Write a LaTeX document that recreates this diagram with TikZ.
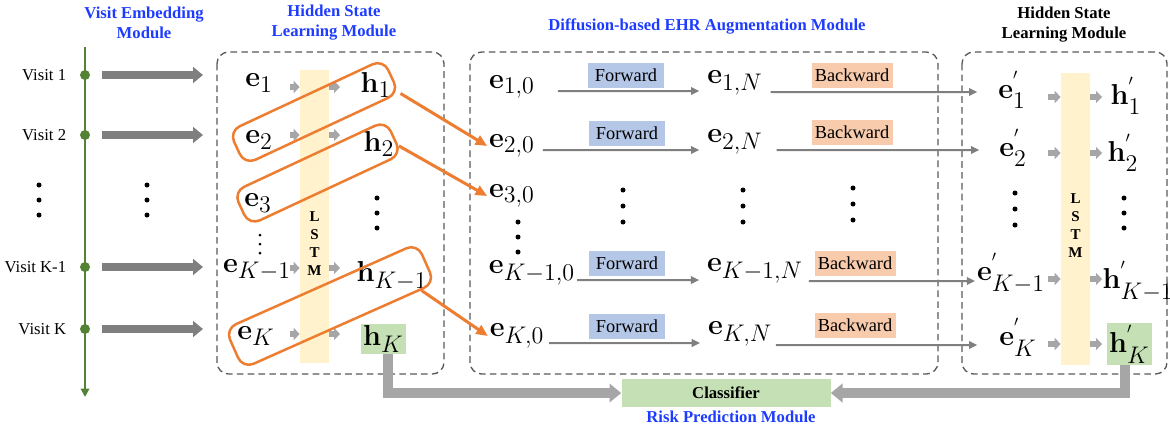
\documentclass[tikz,border=0pt]{standalone}
\usepackage{amsmath, amssymb}
\usepackage[no-math]{fontspec}
\setmainfont{Liberation Serif}
\usepackage{xcolor}
\usepackage{tikz}
\usetikzlibrary{calc, arrows.meta, positioning}

\definecolor{titleblue}{RGB}{30,60,255}
\definecolor{lineorange}{RGB}{237,125,49}
\definecolor{timegreen}{RGB}{84,130,53}
\definecolor{hgreen}{RGB}{197,224,180}
\definecolor{lstmyellow}{RGB}{255,242,204}
\definecolor{fwdblue}{RGB}{180,199,231}
\definecolor{bwdpeach}{RGB}{248,203,173}
\definecolor{arrowgray}{RGB}{127,127,127}
\definecolor{lightgray2}{RGB}{166,166,166}
\definecolor{boxgray}{RGB}{89,89,89}

\begin{document}
\begin{tikzpicture}[x=0.6pt, y=-0.6pt,
    modtitle/.style={font=\bfseries, text=titleblue, align=center, inner sep=0pt},
    vec/.style={font=\fontsize{19}{21}\selectfont, inner sep=1pt},
    modbox/.style={draw=boxgray, dash pattern=on 4pt off 2.5pt, line width=0.8pt, rounded corners=7pt},
    lstmbar/.style={fill=lstmyellow, inner sep=0pt, minimum width=17.4pt, minimum height=175.5pt},
    lstmtext/.style={font=\fontsize{9}{10.8}\selectfont\bfseries, align=center},
    lstmarrow/.style={draw=lightgray2, line width=3.2pt, -{Triangle[length=3.6pt, width=7.2pt]}},
    visitarrow/.style={draw=arrowgray, line width=5pt, -{Triangle[length=6pt, width=9.5pt]}},
    visitdot/.style={circle, fill=timegreen, inner sep=0pt, minimum size=6pt},
    flowline/.style={draw=arrowgray, line width=1.2pt, -{Triangle[length=5pt, width=4.5pt]}},
    fwdbox/.style={fill=fwdblue, font=\fontsize{11}{13}\selectfont, minimum width=46pt, minimum height=15pt, inner sep=0pt},
    bwdbox/.style={fill=bwdpeach, font=\fontsize{11}{13}\selectfont, minimum width=48.6pt, minimum height=15pt, inner sep=0pt},
    obox/.style={draw=lineorange, line width=1.5pt, rounded corners=7pt, inner sep=0pt},
    oarrow/.style={draw=lineorange, line width=1.8pt, -{Triangle[length=7pt, width=6pt]}},
    outarrow/.style={draw=lightgray2, line width=6pt, -{Triangle[length=7pt, width=11pt]}}
]
    \useasboundingbox (0,0) rectangle (1170,427);

    % 1. Module titles
    \node[modtitle] (tVisit) at (144,23) {Visit Embedding\\Module};
    \node[modtitle] (tHidL) at (334,23) {Hidden State\\Learning Module};
    \node[modtitle] (tDiff) at (707,26) {Diffusion-based EHR Augmentation Module};
    \node[modtitle, text=black] (tHidR) at (1064,25) {Hidden State\\Learning Module};

    % 2. Visit timeline
    \coordinate (tlTop) at (85,47);
    \coordinate (tlBot) at (85,397);
    \draw[timegreen, line width=1.2pt, -{Triangle[length=5pt, width=5pt]}] (tlTop) -- (tlBot);
    \foreach \y/\lab/\n in {75/Visit 1/1, 135/Visit 2/2, 267/Visit K-1/3, 329/Visit K/4} {
        \node[anchor=east] (v\n) at (72,\y) {\lab};
        \node[visitdot] (d\n) at (85,\y) {};
        \coordinate (a\n) at (203,\y);
        \draw[visitarrow, shorten <=7.2pt] (d\n) -- (a\n);
    }
    % dots between visits
    \foreach \x in {39,147} \foreach \y in {185,200,215}
        \fill (\x,\y) circle (1.5pt);

    % 3. Dashed module frames
    \draw[modbox] (217,52) rectangle (444,374);
    \draw[modbox] (470,52) rectangle (938,374);
    \draw[modbox] (962,52) rectangle (1167,374);

    % 4. Left hidden state learning module
    \node[lstmbar] (lstmL) at (314.5,216.5) {};
    \node[lstmtext] (lstmLt) at (314.5,243.5) {L\\S\\T\\M};
    \foreach \y in {87,135,268,334} {
        \draw[lstmarrow] (290,\y) -- (lstmL.west |- 0,\y);
        \draw[lstmarrow] (lstmL.east |- 0,\y) -- (340,\y);
    }
    \node[vec] (e1) at (259,83) {$\mathbf{e}_1$};
    \node[vec] (e2) at (259,140) {$\mathbf{e}_2$};
    \node[vec] (e3) at (258,203) {$\mathbf{e}_3$};
    \node[vec] (eKm) at (257,270) {$\mathbf{e}_{K-1}$};
    \node[vec] (eK) at (256,336) {$\mathbf{e}_K$};
    \node[vec] (h1) at (376,85) {$\mathbf{h}_1$};
    \node[vec] (h2) at (379,144) {$\mathbf{h}_2$};
    \node[vec] (hKm) at (392,276) {$\mathbf{h}_{K-1}$};
    \node[vec, fill=hgreen, minimum width=27pt, minimum height=18pt] (hK) at (383.5,339) {$\mathbf{h}_K$};
    \foreach \y in {198,213,228} \fill (377,\y) circle (1.5pt);
    \foreach \y in {235,244,253} \fill (260,\y) circle (0.9pt);

    % orange windows
    \node[obox, minimum width=102pt, minimum height=22.2pt, rotate=25] (ob1) at (314,112) {};
    \node[obox, minimum width=100.8pt, minimum height=22.2pt, rotate=25] (ob2) at (317.5,173) {};
    \node[obox, minimum width=126pt, minimum height=26pt, rotate=24] (ob3) at (330,306) {};

    % 5. Diffusion-based augmentation module
    \node[vec] (e10) at (512,87) {$\mathbf{e}_{1,0}$};
    \node[vec] (e20) at (512,146) {$\mathbf{e}_{2,0}$};
    \node[vec] (e30) at (512,196) {$\mathbf{e}_{3,0}$};
    \node[vec] (eKm0) at (532,273) {$\mathbf{e}_{K-1,0}$};
    \node[vec] (eK0) at (517,336) {$\mathbf{e}_{K,0}$};
    \node[vec] (e1N) at (735,83) {$\mathbf{e}_{1,N}$};
    \node[vec] (e2N) at (735,142) {$\mathbf{e}_{2,N}$};
    \node[vec] (eKmN) at (755,271) {$\mathbf{e}_{K-1,N}$};
    \node[vec] (eKN) at (740,334) {$\mathbf{e}_{K,N}$};

    \node[fwdbox] (f1) at (626,75) {Forward};
    \node[fwdbox] (f2) at (627,133) {Forward};
    \node[fwdbox] (f3) at (627,263) {Forward};
    \node[fwdbox] (f4) at (627,326) {Forward};
    \node[bwdbox] (b1) at (852,75) {Backward};
    \node[bwdbox] (b2) at (852,132) {Backward};
    \node[bwdbox] (b3) at (855,263) {Backward};
    \node[bwdbox] (b4) at (855,325) {Backward};

    \foreach \y in {222,237,252} \fill (518,\y) circle (1.5pt);
    \foreach \x in {623,743} \foreach \y in {190,206,222} \fill (\x,\y) circle (1.5pt);
    \foreach \y in {188,204,220} \fill (853,\y) circle (1.5pt);

    % orange windows feed the diffusion module
    \draw[oarrow] (ob1.south east) -- (e20.west);
    \draw[oarrow] ($(ob2.east)!0.5!(ob2.south east)$) -- (e30.west);
    \draw[oarrow] ($(ob3.south east)!0.077!(ob3.south west)$) -- (eK0.west);

    % forward lines
    \draw[flowline, shorten <=12.6pt, shorten >=3.6pt] ([yshift=-2.4pt]e10.east) -- ([yshift=-4.8pt]e1N.west);
    \draw[flowline, shorten <=3.6pt, shorten >=3.6pt] ([yshift=-2.4pt]e20.east) -- ([yshift=-4.8pt]e2N.west);
    \draw[flowline, shorten >=3.6pt] ([yshift=-4.2pt]eKm0.east) -- ([yshift=-5.4pt]eKmN.west);
    \draw[flowline, shorten <=1.8pt, shorten >=3.6pt] ([yshift=-4.2pt]eK0.east) -- ([yshift=-5.4pt]eKN.west);

    % 6. Right hidden state learning module
    \node[lstmbar] (lstmR) at (1075.5,219) {};
    \node[lstmtext] (lstmRt) at (1075.5,226) {L\\S\\T\\M};
    \foreach \y in {97,153,279,344} {
        \draw[lstmarrow] (1048,\y) -- (lstmR.west |- 0,\y);
        \draw[lstmarrow] (lstmR.east |- 0,\y) -- (1102,\y);
    }
    \node[vec] (e1p) at (1012,90) {$\mathbf{e}^{'}_{1}$};
    \node[vec] (e2p) at (1013,148) {$\mathbf{e}^{'}_{2}$};
    \node[vec] (eKmp) at (1011,273) {$\mathbf{e}^{'}_{K-1}$};
    \node[vec] (eKp) at (1018,337) {$\mathbf{e}^{'}_{K}$};
    \node[vec] (h1p) at (1126,96) {$\mathbf{h}^{'}_{1}$};
    \node[vec] (h2p) at (1123,153) {$\mathbf{h}^{'}_{2}$};
    \node[vec] (hKmp) at (1138,281) {$\mathbf{h}^{'}_{K-1}$};
    \node[vec, fill=hgreen, minimum width=27pt, minimum height=21pt] (hKp) at (1129.5,344) {$\mathbf{h}^{'}_{K}$};
    \foreach \y in {193,209,225} \fill (1015,\y) circle (1.5pt);
    \foreach \y in {198,213,228} \fill (1124,\y) circle (1.5pt);

    % backward lines into the right module
    \draw[flowline, shorten <=3.6pt, shorten >=11.4pt] ([yshift=-5.4pt]e1N.east) -- ([yshift=-1.2pt]e1p.west);
    \draw[flowline, shorten <=7.2pt, shorten >=10.8pt] ([yshift=-4.8pt]e2N.east) -- ([yshift=-1.2pt]e2p.west);
    \draw[flowline, shorten <=2.4pt] ([yshift=-6pt]eKmN.east) -- ([yshift=-4.8pt]eKmp.west);
    \draw[flowline, shorten <=1.2pt, shorten >=12pt] ([yshift=-6.6pt]eKN.east) -- ([yshift=-4.8pt]eKp.west);

    % 7. Risk prediction module
    \node[fill=hgreen, minimum width=125.4pt, minimum height=16.8pt, inner sep=0pt, font=\bfseries] (cls) at (726,393) {Classifier};
    \node[modtitle] (tRisk) at (731,417) {Risk Prediction Module};
    \draw[outarrow] ([xshift=2.5pt]hK.south) |- (cls.west);
    \draw[outarrow] ([xshift=-3pt]hKp.south) |- (cls.east);

\end{tikzpicture}
\end{document}
